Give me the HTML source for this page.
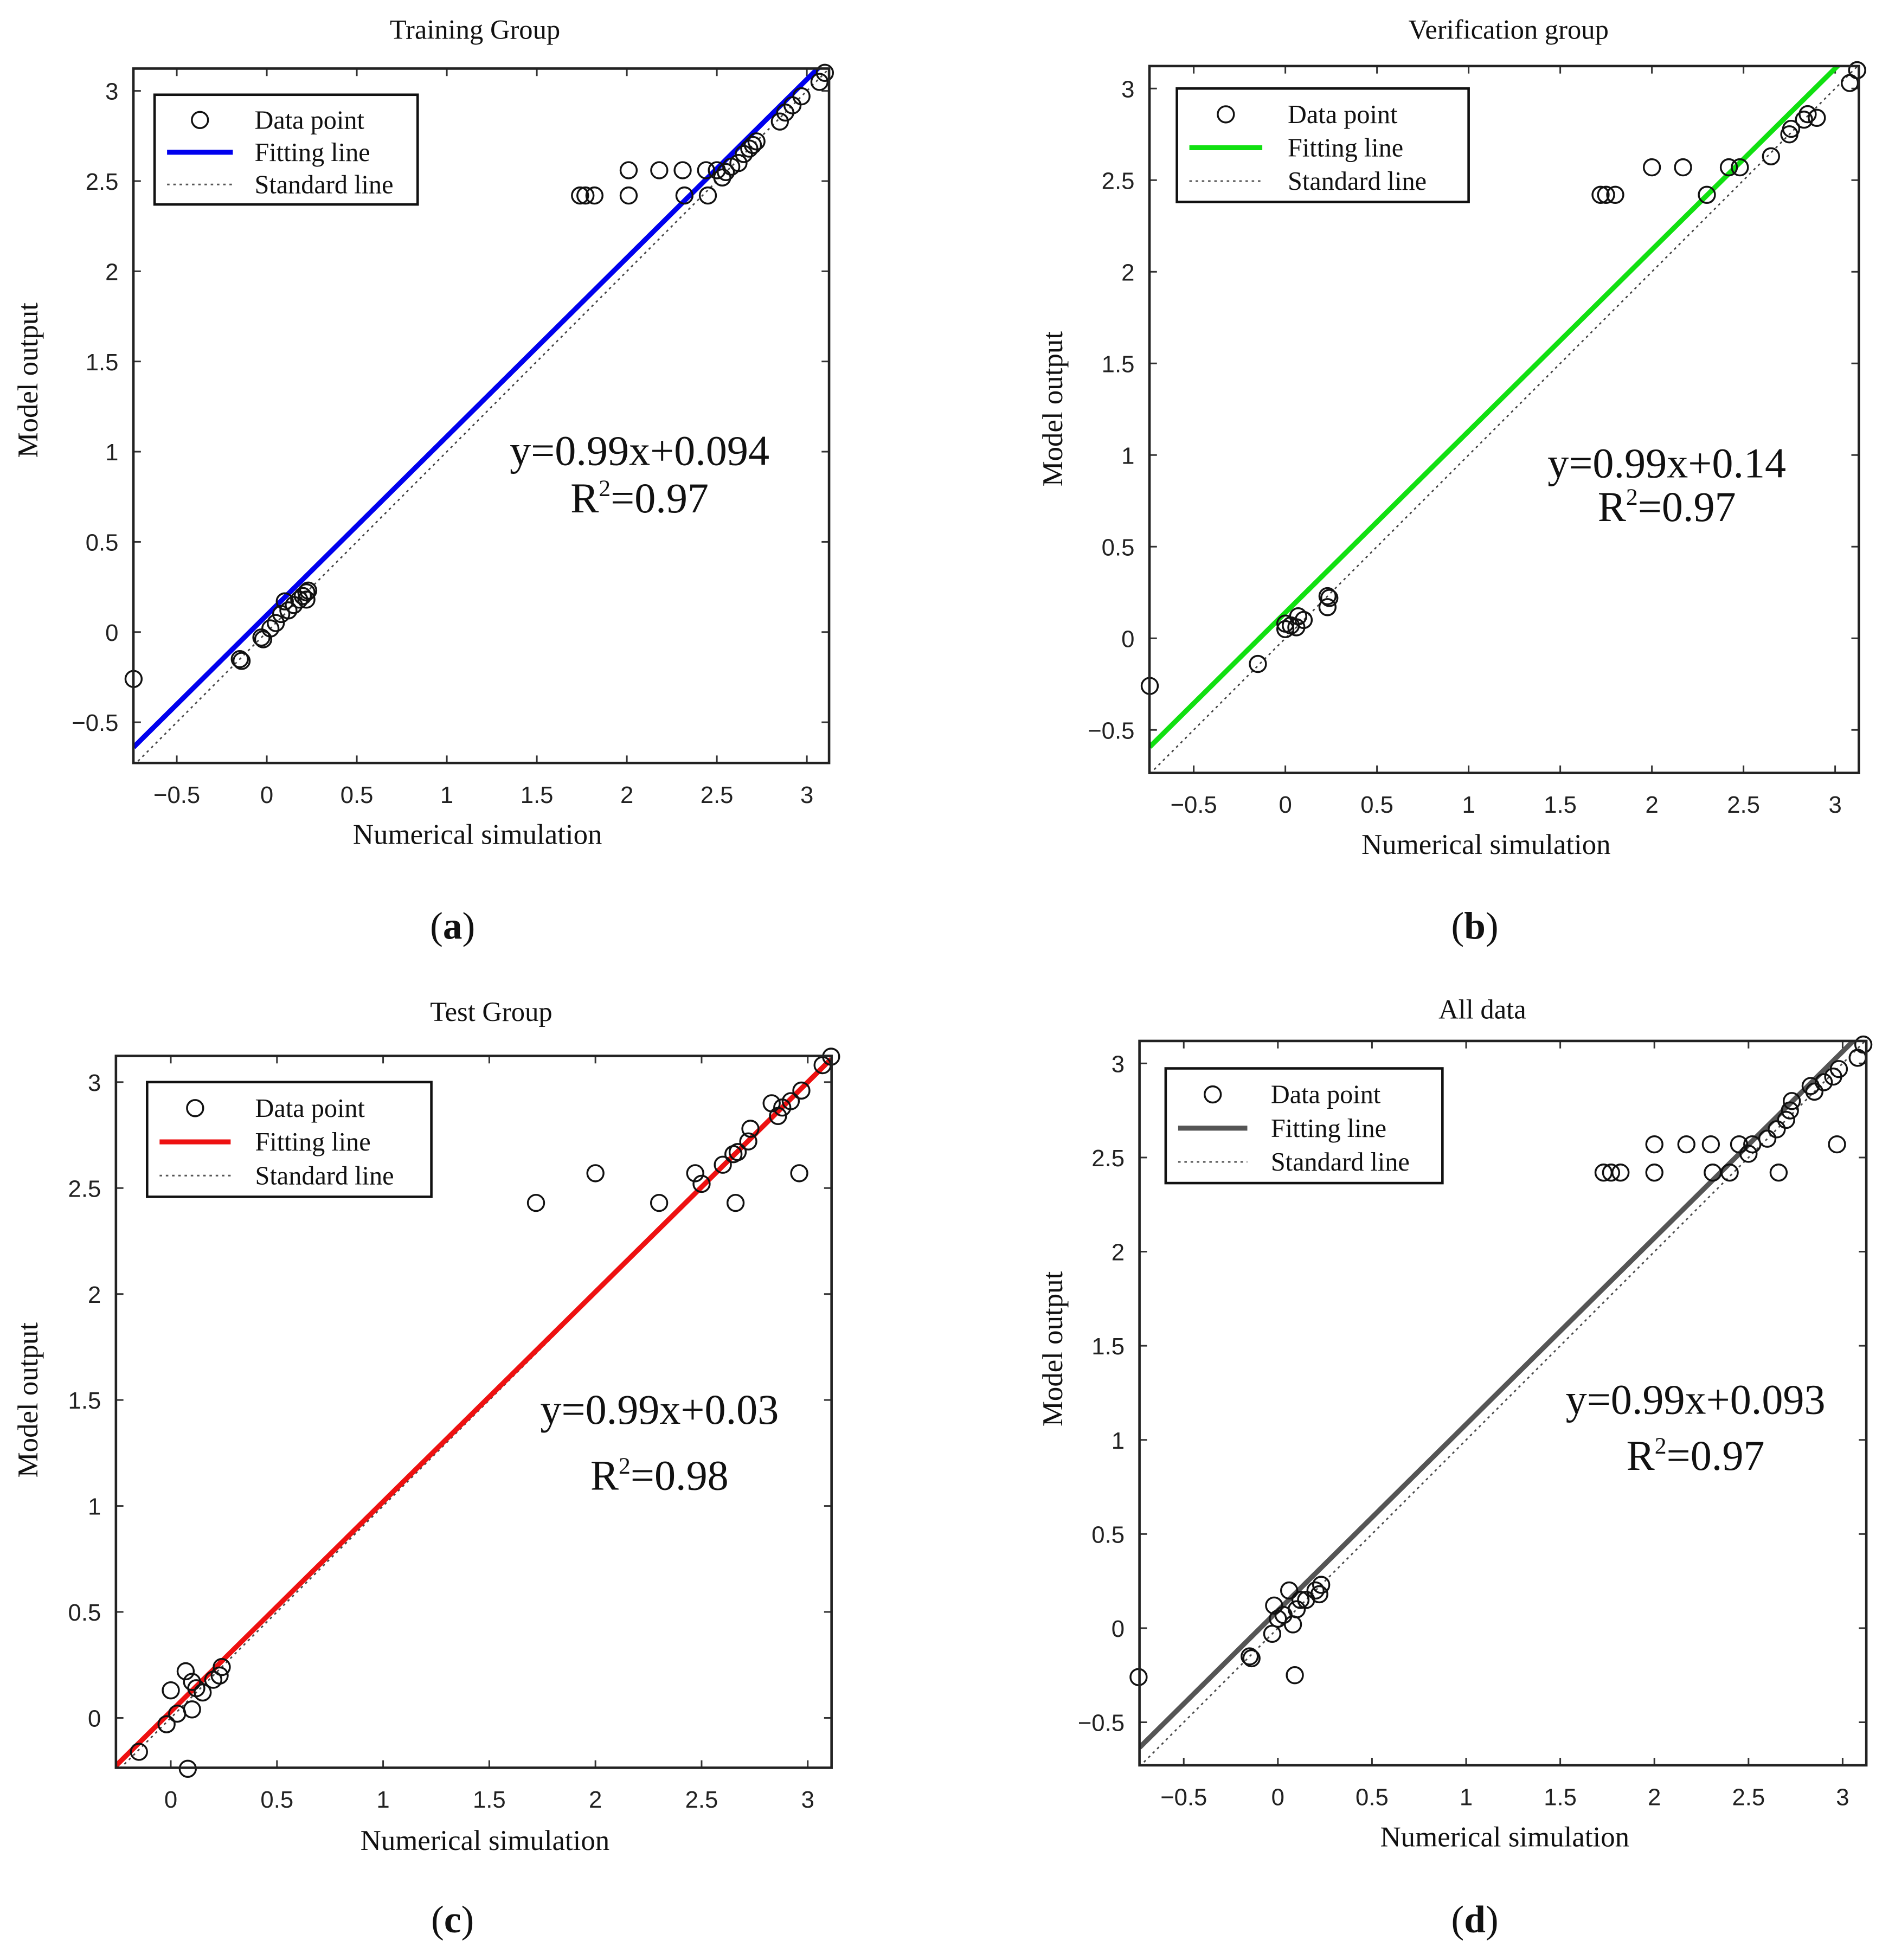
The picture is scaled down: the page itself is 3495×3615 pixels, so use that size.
<!DOCTYPE html>
<html><head><meta charset="utf-8"><style>
html,body{margin:0;padding:0;background:#fff;}
svg{display:block;}
.tk{font-family:"Liberation Sans",sans-serif;font-size:19px;fill:#222;}
.sr{font-family:"Liberation Serif",serif;fill:#111;}
</style></head><body>
<svg id="fig" width="3495" height="3615" viewBox="0 0 1520 1572.2" xmlns="http://www.w3.org/2000/svg"></svg>
<script>
// Panel (a) Training Group
const xsA=[-0.74,-0.15,-0.14,-0.03,-0.02,0.02,0.05,0.08,0.1,0.12,0.15,0.18,0.2,0.22,0.22,0.23,1.74,1.77,1.82,2.01,2.01,2.18,2.31,2.32,2.45,2.44,2.5,2.53,2.55,2.58,2.62,2.65,2.68,2.7,2.72,2.85,2.88,2.92,2.97,3.07,3.1];
const ysA=[-0.26,-0.15,-0.16,-0.03,-0.04,0.02,0.05,0.1,0.17,0.12,0.15,0.18,0.2,0.22,0.18,0.23,2.42,2.42,2.42,2.42,2.56,2.56,2.56,2.42,2.42,2.56,2.56,2.52,2.55,2.58,2.6,2.65,2.68,2.7,2.72,2.83,2.88,2.92,2.97,3.05,3.1];
// Panel (b) Verification group
const xsB=[-0.74,-0.15,0,0,0.03,0.06,0.07,0.1,0.23,0.24,0.23,1.72,1.75,1.8,2.0,2.17,2.3,2.42,2.48,2.65,2.75,2.76,2.83,2.85,2.9,3.08,3.12];
const ysB=[-0.26,-0.14,0.05,0.08,0.07,0.06,0.12,0.1,0.17,0.22,0.23,2.42,2.42,2.42,2.57,2.57,2.42,2.57,2.57,2.63,2.75,2.78,2.83,2.86,2.84,3.03,3.1];
// Panel (c) Test Group
const xsC=[-0.15,-0.02,0,0.03,0.07,0.08,0.1,0.1,0.12,0.15,0.2,0.24,0.23,1.72,2,2.3,2.47,2.5,2.6,2.65,2.66,2.67,2.72,2.73,2.83,2.86,2.88,2.92,2.96,2.97,3.07,3.11];
const ysC=[-0.16,-0.03,0.13,0.02,0.22,-0.24,0.04,0.17,0.14,0.12,0.18,0.24,0.2,2.43,2.57,2.43,2.57,2.52,2.61,2.66,2.43,2.67,2.72,2.78,2.9,2.84,2.88,2.91,2.57,2.96,3.08,3.12];
// Panel (d) All data
const xsD=[-0.74,-0.15,-0.14,-0.03,-0.02,0,0.03,0.06,0.08,0.09,0.1,0.12,0.15,0.2,0.22,0.23,1.73,1.77,1.82,2.0,2.0,2.17,2.3,2.31,2.4,2.45,2.5,2.52,2.6,2.65,2.66,2.7,2.72,2.73,2.83,2.85,2.9,2.95,2.97,2.98,3.08,3.11];
const ysD=[-0.26,-0.15,-0.16,-0.03,0.12,0.05,0.07,0.2,0.02,-0.25,0.1,0.15,0.15,0.2,0.18,0.23,2.42,2.42,2.42,2.57,2.42,2.57,2.57,2.42,2.42,2.57,2.52,2.57,2.6,2.65,2.42,2.7,2.75,2.8,2.88,2.85,2.9,2.93,2.57,2.97,3.03,3.1];
const slopes=[0.99,0.99,0.99,0.99];
const intercepts=[0.094,0.14,0.03,0.093];
const tickVals=[-0.5,0,0.5,1,1.5,2,2.5,3];
const tickLabels=["\u22120.5","0","0.5","1","1.5","2","2.5","3"];

const NS="http://www.w3.org/2000/svg";
const svg=document.getElementById('fig');
function mk(tag,attrs,parent){const e=document.createElementNS(NS,tag);for(const k in attrs)e.setAttribute(k,attrs[k]);(parent||svg).appendChild(e);return e;}

const panels=[
 {id:'a',title:'Training Group',box:[107,55,665,612],x0:214,ux:144.4,y0:507,uy:144.7,xmin:-0.74,xmax:3.12,xs:xsA,ys:ysA,color:'#0000ee',leg:[124,76,335,164],eq:'y=0.99x+0.094',r2:'0.97',eqp:[513,373,411],tt:[381,31],xl:[383,677],yl:[30,305],pl:[363,743]},
 {id:'b',title:'Verification group',box:[922,53,1491,620],x0:1031,ux:147,y0:512,uy:147,xmin:-0.74,xmax:3.13,xs:xsB,ys:ysB,color:'#11e011',leg:[944,71,1178,162],eq:'y=0.99x+0.14',r2:'0.97',eqp:[1337,383,418],tt:[1210,31],xl:[1192,685],yl:[852,328],pl:[1183,743]},
 {id:'c',title:'Test Group',box:[93,847,667,1418],x0:137,ux:170.3,y0:1378,uy:170,xmin:-0.26,xmax:3.11,xs:xsC,ys:ysC,color:'#ee1111',leg:[118,868,346,960],eq:'y=0.99x+0.03',r2:'0.98',eqp:[529,1142,1195],tt:[394,819],xl:[389,1484],yl:[30,1123],pl:[363,1540]},
 {id:'d',title:'All data',box:[914,835,1497,1416],x0:1025,ux:151,y0:1306,uy:151,xmin:-0.735,xmax:3.126,xs:xsD,ys:ysD,color:'#555555',leg:[935,857,1157,949],eq:'y=0.99x+0.093',r2:'0.97',eqp:[1360,1134,1179],tt:[1189,817],xl:[1207,1481],yl:[852,1082],pl:[1183,1540]}
];

panels.forEach((p,i)=>{
 const g=mk('g',{});
 
 
 const [L,T,R,B]=p.box;
 const X=v=>p.x0+v*p.ux, Y=v=>p.y0-v*p.uy;
 const cp=mk('clipPath',{id:'cp'+p.id},g);
 mk('rect',{x:L,y:T,width:R-L,height:B-T},cp);
 tickVals.forEach((v,k)=>{
  const xx=X(v);
  if(xx>L+2&&xx<R-2){
   mk('line',{x1:xx,y1:B,x2:xx,y2:B-6,stroke:'#333','stroke-width':1.3},g);
   mk('line',{x1:xx,y1:T,x2:xx,y2:T+6,stroke:'#333','stroke-width':1.3},g);
   const t=mk('text',{x:xx,y:B+32,'text-anchor':'middle',class:'tk'},g);t.textContent=tickLabels[k];
   
   
  }
  const yy=Y(v);
  if(yy>T+2&&yy<B-2){
   mk('line',{x1:L,y1:yy,x2:L+6,y2:yy,stroke:'#333','stroke-width':1.3},g);
   mk('line',{x1:R,y1:yy,x2:R-6,y2:yy,stroke:'#333','stroke-width':1.3},g);
   const t=mk('text',{x:L-12,y:yy+7,'text-anchor':'end',class:'tk'},g);t.textContent=tickLabels[k];
   
   
  }
 });
 const sl=mk('line',{x1:X(p.xmin),y1:Y(p.xmin),x2:X(p.xmax),y2:Y(p.xmax),stroke:'#444','stroke-width':1.2,'stroke-dasharray':'2 3','clip-path':'url(#cp'+p.id+')'},g);
 
 
 const fl=mk('line',{x1:X(p.xmin),y1:Y(slopes[i]*p.xmin+intercepts[i]),x2:X(p.xmax),y2:Y(slopes[i]*p.xmax+intercepts[i]),stroke:p.color,'stroke-width':4,'clip-path':'url(#cp'+p.id+')'},g);
 
 
 p.xs.forEach((xv,k)=>{
  const c=mk('circle',{cx:X(xv),cy:Y(p.ys[k]),r:6.5,fill:'none',stroke:'#111','stroke-width':1.5},g);
  
  
 });
 const bx=mk('rect',{x:L,y:T,width:R-L,height:B-T,fill:'none',stroke:'#222','stroke-width':2},g);
 
 
 const [a,b,c,d]=p.leg;
 const lg=mk('g',{},g);
 
 
 mk('rect',{x:a,y:b,width:c-a,height:d-b,fill:'#fff',stroke:'#111','stroke-width':2},lg);
 const h=(d-b)/3.4;
 const lx=a+10, lw=(c-a)*0.25;
 mk('circle',{cx:lx+lw/2,cy:b+h*0.55+6,r:6.5,fill:'none',stroke:'#111','stroke-width':1.5},lg);
 mk('line',{x1:lx,y1:b+h*1.55+6,x2:lx+lw,y2:b+h*1.55+6,stroke:p.color,'stroke-width':4},lg);
 mk('line',{x1:lx,y1:b+h*2.55+6,x2:lx+lw,y2:b+h*2.55+6,stroke:'#555','stroke-width':1.3,'stroke-dasharray':'2 3'},lg);
 ['Data point','Fitting line','Standard line'].forEach((s,k)=>{
  const t=mk('text',{x:a+(c-a)*0.38,y:b+h*(k+0.55)+13,class:'sr','font-size':21},lg);t.textContent=s;
  
  
 });
 const e1=mk('text',{x:p.eqp[0],y:p.eqp[1],'text-anchor':'middle',class:'sr','font-size':34},g);e1.textContent=p.eq;
 
 
 const e2=mk('text',{x:p.eqp[0],y:p.eqp[2],'text-anchor':'middle',class:'sr','font-size':34},g);
 e2.innerHTML='R<tspan font-size="19" dy="-13">2</tspan><tspan dy="13">='+p.r2+'</tspan>';
 
 
 const tt=mk('text',{x:p.tt[0],y:p.tt[1],'text-anchor':'middle',class:'sr','font-size':22},g);tt.textContent=p.title;
 
 
 const xl=mk('text',{x:p.xl[0],y:p.xl[1],'text-anchor':'middle',class:'sr','font-size':23},g);xl.textContent='Numerical simulation';
 
 
 const yl=mk('text',{x:p.yl[0],y:p.yl[1],'text-anchor':'middle',class:'sr','font-size':23,transform:'rotate(-90 '+p.yl[0]+' '+p.yl[1]+')'},g);yl.textContent='Model output';
 
 
 const pl=mk('text',{x:p.pl[0],y:p.pl[1]+10,'text-anchor':'middle',class:'sr','font-size':31},g);
 pl.innerHTML='(<tspan font-weight="bold">'+p.id+'</tspan>)';
 
 
});
</script>
</body></html>
